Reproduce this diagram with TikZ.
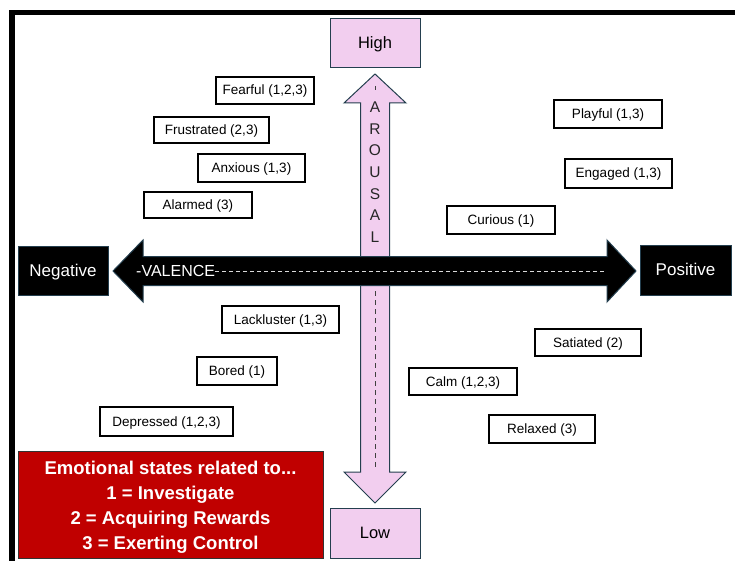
\documentclass[tikz,border=0pt]{standalone}
\usepackage{fontspec}
\setmainfont{Liberation Sans}
\definecolor{axispink}{HTML}{F2CEEF}
\definecolor{edgeslate}{HTML}{243F4F}
\definecolor{keyred}{HTML}{C00000}
\begin{document}
\begin{tikzpicture}[x=1pt,y=-1pt,
  emo/.style={draw=black, line width=1.2pt, fill=white, inner sep=0pt,
    text height=10pt, text depth=1pt, font=\fontsize{13.5}{15}\selectfont},
  level/.style={draw=edgeslate, line width=1pt, fill=axispink, inner sep=0pt,
    text height=12pt, text depth=1pt,
    minimum width=90pt, minimum height=49pt, font=\fontsize{16.5}{18}\selectfont},
  pole/.style={draw=edgeslate, line width=0.8pt, fill=black, text=white, inner sep=0pt,
    text height=12pt, text depth=1pt,
    minimum width=90pt, minimum height=49pt, font=\fontsize{17}{19}\selectfont},
  letter/.style={inner sep=0pt, font=\fontsize{15.5}{17}\selectfont, text=black!85},
  arrowbody/.style={draw=edgeslate, line width=1pt, line join=miter}
]
\useasboundingbox (0,0) rectangle (735,561);

% outer frame, running past the lower and right edges
\begin{scope}
  \clip (0,0) rectangle (735,561);
  \draw[line width=5.5pt] (12,12.5) rectangle (740,600);
\end{scope}

% arousal axis (vertical double arrow)
\coordinate (atop) at (375,74);
\coordinate (abot) at (375,503);
\fill[axispink] (atop) -- (406,103) -- (389.5,103) -- (389.5,472) -- (406,472) -- (abot)
  -- (344,472) -- (360.5,472) -- (360.5,103) -- (344,103) -- cycle;
\draw[arrowbody] (atop) -- (406,103) -- (389.5,103) -- (389.5,472) -- (406,472) -- (abot)
  -- (344,472) -- (360.5,472) -- (360.5,103) -- (344,103) -- cycle;
\draw[black!75, line width=0.9pt] (375,86) -- (375,90);
\draw[black!75, line width=0.9pt, dash pattern=on 5pt off 4pt] (375,291) -- (375,470);
\foreach \ch [count=\i from 0] in {A,R,O,U,S,A,L}
  \node[letter] (ar\i) at (375,{107+21.7*\i}) {\ch};

% valence axis (horizontal double arrow), drawn over the vertical one
\coordinate (vleft) at (113,271);
\coordinate (vright) at (636,271);
\draw[arrowbody, fill=black] (vleft) -- (143,240) -- (143,256.5) -- (607,256.5) -- (607,240)
  -- (vright) -- (607,302) -- (607,285.5) -- (143,285.5) -- (143,302) -- cycle;
\node[anchor=west, inner sep=0pt, text=white, text height=11pt, text depth=1pt,
  font=\fontsize{16}{18}\selectfont] (valence) at (136,271) {-VALENCE};
\draw[black!15, line width=1pt, dash pattern=on 4pt off 3pt] (valence.east) -- (606,271);

% axis end labels
\node[level] (high) at (375,43.5) {High};
\node[level, minimum height=50pt] (low) at (375,533) {Low};
\node[pole] (neg) at (63,270.5) {Negative};
\node[pole, minimum width=91pt, minimum height=50pt] (pos) at (685.5,270) {Positive};

% emotional states
\node[emo, minimum width=98pt, minimum height=27pt] (fearful) at (265,90.5) {Fearful (1,2,3)};
\node[emo, minimum width=115pt, minimum height=26pt] (frustrated) at (211.5,130) {Frustrated (2,3)};
\node[emo, minimum width=107pt, minimum height=28pt] (anxious) at (251.5,168) {Anxious (1,3)};
\node[emo, minimum width=108pt, minimum height=26pt] (alarmed) at (198,205) {Alarmed (3)};
\node[emo, minimum width=108pt, minimum height=28pt] (playful) at (608,114) {Playful (1,3)};
\node[emo, minimum width=107pt, minimum height=29pt] (engaged) at (618.5,173.5) {Engaged (1,3)};
\node[emo, minimum width=108pt, minimum height=28pt] (curious) at (501,220) {Curious (1)};
\node[emo, minimum width=117pt, minimum height=27pt] (lackluster) at (280.5,319.5) {Lackluster (1,3)};
\node[emo, minimum width=80pt, minimum height=28pt] (bored) at (237,371) {Bored (1)};
\node[emo, minimum width=133pt, minimum height=29pt] (depressed) at (166.5,421.5) {Depressed (1,2,3)};
\node[emo, minimum width=106pt, minimum height=27pt] (satiated) at (588,342.5) {Satiated (2)};
\node[emo, minimum width=108pt, minimum height=27pt] (calm) at (463,381.5) {Calm (1,2,3)};
\node[emo, minimum width=106pt, minimum height=28pt] (relaxed) at (542,429) {Relaxed (3)};

% key: red panel and its four lines
\node[draw=black!80, line width=1pt, fill=keyred, inner sep=0pt,
  minimum width=305pt, minimum height=107pt] (keybox) at (170.5,504.5) {};
\node[text=white, inner sep=0pt, align=center,
  font=\bfseries\fontsize{18.5}{25}\selectfont] (keytext) at (170.5,507.5)
  {Emotional states related to...\\1 = Investigate\\2 = Acquiring Rewards\\3 = Exerting Control};
\end{tikzpicture}
\end{document}
